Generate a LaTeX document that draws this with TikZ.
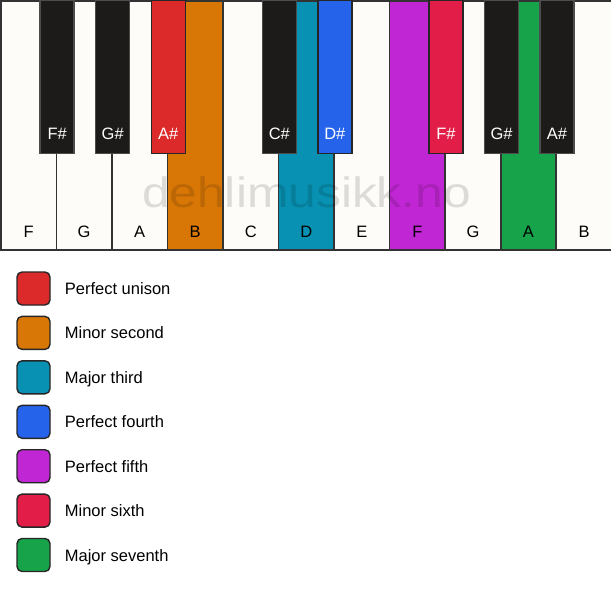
\documentclass[tikz,border=0pt]{standalone}
\usepackage{fontspec}
\setmainfont{Liberation Sans}
\usetikzlibrary{positioning}

\definecolor{ivory}{HTML}{FDFCF9}
\definecolor{ebony}{HTML}{1C1B19}
\definecolor{keyline}{HTML}{333333}
\definecolor{unison}{HTML}{DC2A2A}
\definecolor{minsecond}{HTML}{D97706}
\definecolor{majthird}{HTML}{0891B2}
\definecolor{perfourth}{HTML}{2563EB}
\definecolor{perfifth}{HTML}{C026D3}
\definecolor{minsixth}{HTML}{E11D48}
\definecolor{majseventh}{HTML}{16A34A}

\tikzset{
  whitekey/.style={draw=keyline, line width=1.6pt, fill=ivory, anchor=north west,
    inner sep=0pt, minimum width=55.55pt, text height=236.5pt, text depth=12.5pt},
  blackkey/.style={draw=black!70, line width=1.4pt, fill=ebony, text=white, anchor=north,
    inner sep=0pt, minimum width=34pt, text height=138.5pt, text depth=14pt},
  swatch/.style={draw=black!85, line width=1.4pt, rounded corners=5pt,
    minimum size=33pt, inner sep=0pt},
  swatchtext/.style={right=14pt of #1, inner sep=0pt, text height=12pt, text depth=0pt}
}

\begin{document}
\begin{tikzpicture}[x=1pt, y=-1pt, font=\fontsize{16.5}{19}\selectfont]
        \useasboundingbox (0,0) rectangle (611,594);

        %white keys
        \node[whitekey] (wF1) at (0,0) {F};
        \node[whitekey] (wG1) at (55.55,0) {G};
        \node[whitekey] (wA1) at (111.09,0) {A};
        \node[whitekey, fill=minsecond] (wB1) at (166.64,0) {B};
        \node[whitekey] (wC) at (222.18,0) {C};
        \node[whitekey, fill=majthird] (wD) at (277.73,0) {D};
        \node[whitekey] (wE) at (333.27,0) {E};
        \node[whitekey, fill=perfifth] (wF2) at (388.82,0) {F};
        \node[whitekey] (wG2) at (444.36,0) {G};
        \node[whitekey, fill=majseventh] (wA2) at (499.91,0) {A};
        \node[whitekey] (wB2) at (555.45,0) {B};

        %watermark
        \node[anchor=base, inner sep=0pt, text=black, text opacity=0.13] (mark) at (306.5,207)
            {\scalebox{1.17}[1]{\fontsize{42.5}{48}\selectfont dehlimusikk.no}};

        %black keys
        \node[blackkey] (bFs1) at (wF1.north east) {F\#};
        \node[blackkey] (bGs1) at (wG1.north east) {G\#};
        \node[blackkey, fill=unison, draw=black!85] (bAs1) at (wA1.north east) {A\#};
        \node[blackkey] (bCs) at (wC.north east) {C\#};
        \node[blackkey, fill=perfourth, draw=black!85] (bDs) at (wD.north east) {D\#};
        \node[blackkey, fill=minsixth, draw=black!85] (bFs2) at (wF2.north east) {F\#};
        \node[blackkey] (bGs2) at (wG2.north east) {G\#};
        \node[blackkey] (bAs2) at (wA2.north east) {A\#};

        %legend
        \node[swatch, fill=unison] (s1) at (33.5,288.5) {};
        \node[swatch, fill=minsecond] (s2) at (33.5,332.9) {};
        \node[swatch, fill=majthird] (s3) at (33.5,377.3) {};
        \node[swatch, fill=perfourth] (s4) at (33.5,421.8) {};
        \node[swatch, fill=perfifth] (s5) at (33.5,466.2) {};
        \node[swatch, fill=minsixth] (s6) at (33.5,510.6) {};
        \node[swatch, fill=majseventh] (s7) at (33.5,555) {};

        \node[swatchtext=s1] (t1) {Perfect unison};
        \node[swatchtext=s2] (t2) {Minor second};
        \node[swatchtext=s3] (t3) {Major third};
        \node[swatchtext=s4] (t4) {Perfect fourth};
        \node[swatchtext=s5] (t5) {Perfect fifth};
        \node[swatchtext=s6] (t6) {Minor sixth};
        \node[swatchtext=s7] (t7) {Major seventh};
    \end{tikzpicture}
\end{document}
